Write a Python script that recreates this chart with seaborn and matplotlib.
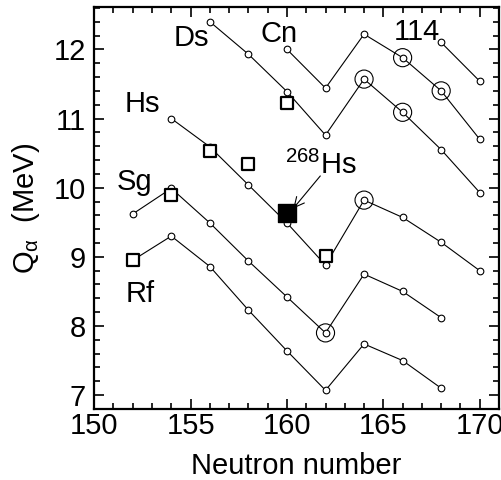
import numpy as np
import pandas as pd
import matplotlib
matplotlib.use("Agg")
import matplotlib.pyplot as plt
from matplotlib.ticker import MultipleLocator
import seaborn as sns

# theoretical Q-alpha values (small open circles)
rf_n = [152, 154, 156, 158, 160, 162, 164, 166, 168]
rf_q = [8.95, 9.30, 8.86, 8.23, 7.64, 7.07, 7.74, 7.50, 7.10]
sg_n = [152, 154, 156, 158, 160, 162, 164, 166, 168]
sg_q = [9.62, 9.99, 9.49, 8.94, 8.42, 7.90, 8.75, 8.50, 8.12]
hs_n = [154, 156, 158, 160, 162, 164, 166, 168, 170]
hs_q = [11.00, 10.59, 10.04, 9.49, 8.88, 9.82, 9.57, 9.21, 8.80]
ds_n = [156, 158, 160, 162, 164, 166, 168, 170]
ds_q = [12.40, 11.93, 11.39, 10.76, 11.57, 11.09, 10.55, 9.93]
cn_n = [160, 162, 164, 166, 168, 170]
cn_q = [12.00, 11.44, 12.22, 11.88, 11.40, 10.70]
fl_n = [168, 170]
fl_q = [12.10, 11.54]

# experimental values (open squares) and 268Hs (filled square)
exp_n = [152, 154, 156, 158, 160, 162]
exp_q = [8.95, 9.89, 10.53, 10.34, 11.22, 9.01]
hs268_n = [160]
hs268_q = [9.63]

# highlighted nuclei (large open circles)
ring_n = [162, 164, 164, 166, 166, 168]
ring_q = [7.90, 9.82, 11.57, 11.09, 11.88, 11.40]

series = {"Rf": (rf_n, rf_q), "Sg": (sg_n, sg_q), "Hs": (hs_n, hs_q),
          "Ds": (ds_n, ds_q), "Cn": (cn_n, cn_q), "114": (fl_n, fl_q)}
df = pd.concat([pd.DataFrame({"N": n, "Q": q, "el": k}) for k, (n, q) in series.items()])

sns.set_style("ticks")
plt.rcParams["font.family"] = ["Liberation Sans", "DejaVu Sans"]
plt.rcParams["mathtext.fontset"] = "custom"
plt.rcParams["mathtext.rm"] = "Liberation Sans"
plt.rcParams["mathtext.it"] = "Liberation Sans"
plt.rcParams["text.color"] = "black"
plt.rcParams["axes.labelcolor"] = "black"
plt.rcParams["xtick.color"] = "black"
plt.rcParams["ytick.color"] = "black"
plt.rcParams["axes.edgecolor"] = "black"

fig, ax = plt.subplots(figsize=(5.01, 4.8), dpi=100)
fig.subplots_adjust(left=0.188, right=0.996, top=0.985, bottom=0.148)

sns.lineplot(data=df, x="N", y="Q", units="el", estimator=None, sort=False,
             color="black", lw=0.8, marker="o", markersize=4.8,
             markerfacecolor="white", markeredgecolor="black", markeredgewidth=0.8,
             ax=ax, zorder=2)
sns.scatterplot(x=ring_n, y=ring_q, s=170, facecolor="none", edgecolor="black",
                linewidth=0.8, ax=ax, zorder=3)
sns.scatterplot(x=exp_n, y=exp_q, marker="s", s=75, facecolor="white",
                edgecolor="black", linewidth=1.6, ax=ax, zorder=4)
sns.scatterplot(x=hs268_n, y=hs268_q, marker="s", s=150, color="black",
                edgecolor="black", ax=ax, zorder=5)

fs = 21
lab = dict(fontsize=fs, ha="left", va="baseline")
ax.text(154.12, 12.05, "Ds", **lab)
ax.text(158.61, 12.10, "Cn", **lab)
ax.text(165.53, 12.14, "114", **lab)
ax.text(151.56, 11.10, "Hs", **lab)
ax.text(151.18, 9.97, "Sg", **lab)
ax.text(151.61, 8.34, "Rf", **lab)
ax.text(159.91, 10.20, r"$^{268}$Hs", **lab)
ax.annotate("", xy=(160.33, 9.70), xytext=(161.73, 10.17),
            arrowprops=dict(arrowstyle="->", color="black", lw=0.8,
                            shrinkA=0, shrinkB=0, mutation_scale=18))

ax.set_xlim(150, 171)
ax.set_ylim(6.8, 12.61)
ax.xaxis.set_major_locator(MultipleLocator(5))
ax.xaxis.set_minor_locator(MultipleLocator(1))
ax.yaxis.set_major_locator(MultipleLocator(1))
ax.yaxis.set_minor_locator(MultipleLocator(0.2))
ax.tick_params(which="both", direction="in", top=True, right=True, width=1.2)
ax.tick_params(which="major", length=7, labelsize=fs)
ax.tick_params(axis="y", which="major", pad=6)
ax.tick_params(axis="x", which="major", pad=2)
ax.tick_params(which="minor", length=4)
for s in ax.spines.values():
    s.set_linewidth(1.6)

ax.set_xlabel("Neutron number", fontsize=fs, labelpad=9)
ax.set_ylabel(r"Q$_{\alpha}$  (MeV)", fontsize=fs, labelpad=8)

fig.savefig("out.png", dpi=100)
